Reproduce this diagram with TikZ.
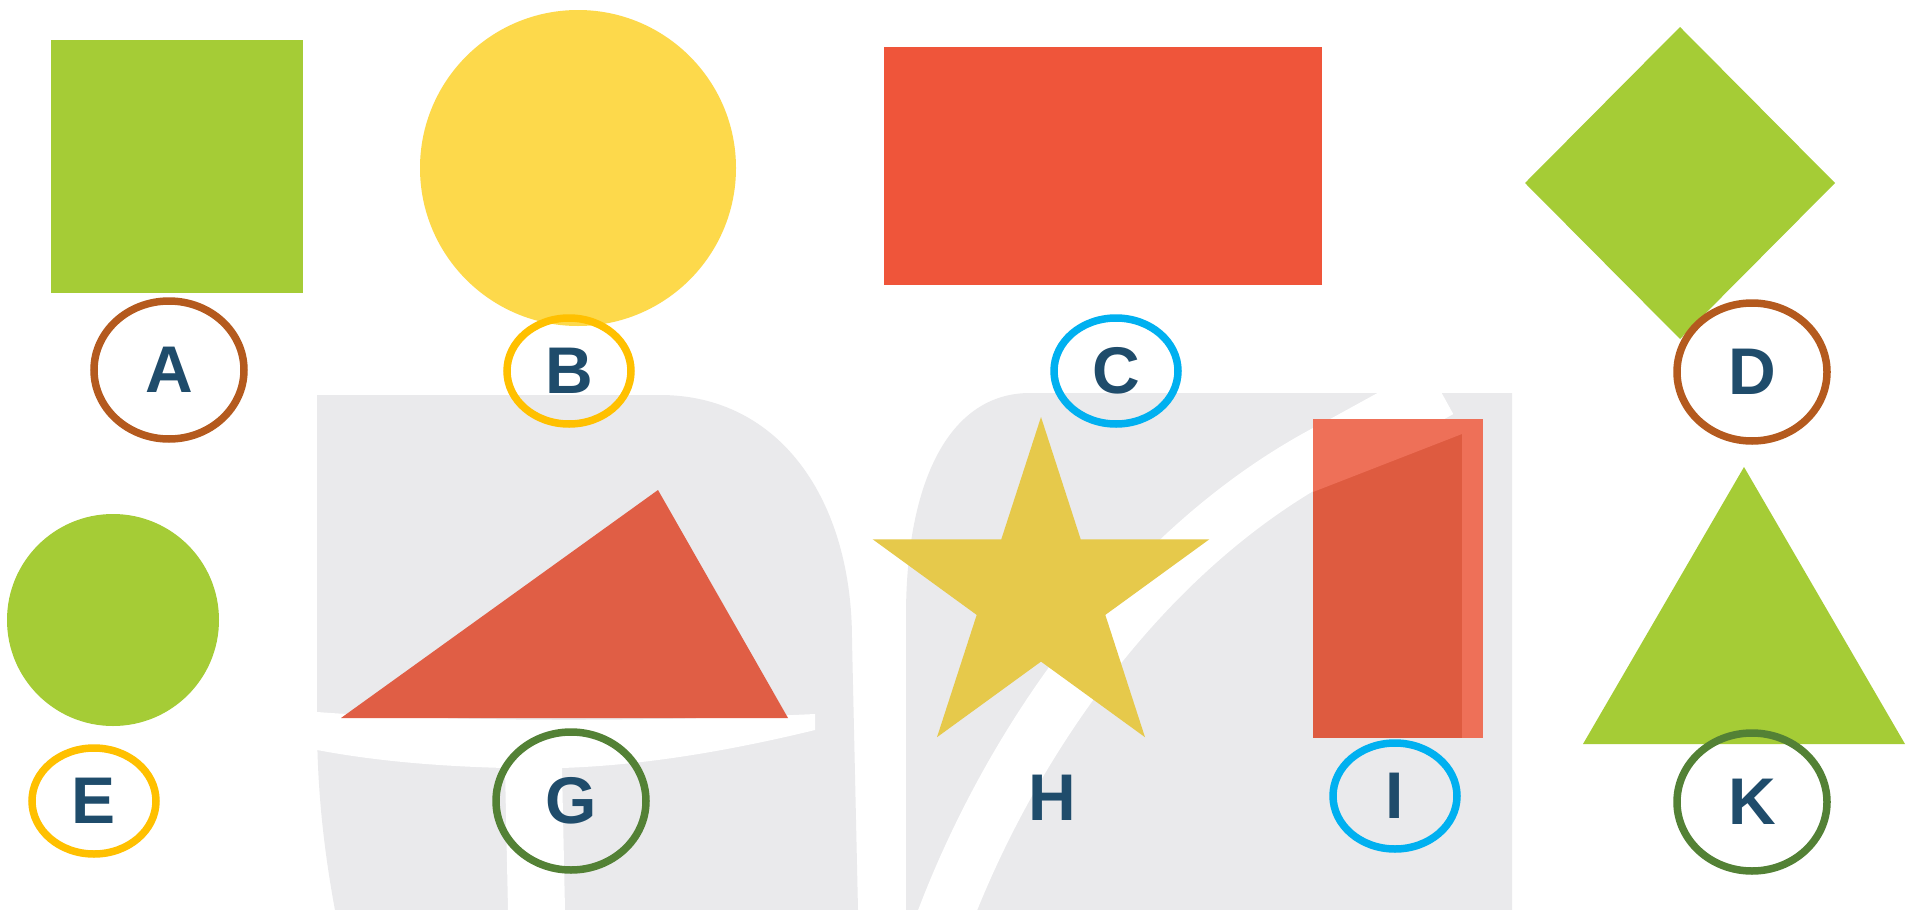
\documentclass[tikz,border=0pt]{standalone}
\usepackage{fontspec}
\setmainfont{Liberation Sans}
\usetikzlibrary{shapes.geometric}
\definecolor{shgreen}{HTML}{A5CC36}
\definecolor{shyellow}{HTML}{FDD94B}
\definecolor{shstar}{HTML}{E6C94B}
\definecolor{shred}{HTML}{EF553A}
\definecolor{shredG}{HTML}{E05E45}
\definecolor{shredI}{HTML}{DE5B40}
\definecolor{shredIlight}{HTML}{EE7058}
\definecolor{ringbrown}{HTML}{B45A1E}
\definecolor{ringgold}{HTML}{FFC000}
\definecolor{ringcyan}{HTML}{00B0F0}
\definecolor{ringgreen}{HTML}{538135}
\definecolor{lettercol}{HTML}{1F4C6B}
\definecolor{wmgray}{HTML}{EAEAEC}
\begin{document}
\begin{tikzpicture}[x=1pt,y=-1pt,
  letter/.style={font=\fontsize{66}{66}\selectfont\bfseries, text=lettercol, inner sep=0pt},
  ringbig/.style={letter, ellipse, draw, line width=7.5pt, minimum width=150pt, minimum height=138pt},
  ringsmall/.style={letter, ellipse, draw, line width=7.5pt, minimum width=124pt, minimum height=106pt},
  figbox/.style={draw=none, inner sep=0pt, outer sep=0pt}]
% canvas
\fill[white] (0,0) rectangle (1931,910);
\useasboundingbox (0,0) rectangle (1931,910);
% watermark (light grey logo)
\fill[wmgray] (317,395) -- (660,395) .. controls (780,395) and (852,500) .. (852,640) -- (858,910) -- (335,910) .. controls (322,840) and (317,780) .. (317,720) -- cycle;
\fill[white] (317,712) .. controls (450,722) and (650,722) .. (815,714) -- (815,730) .. controls (700,758) and (620,766) .. (562,768) -- (565,910) -- (508,910) -- (505,768) .. controls (430,766) and (370,760) .. (317,750) -- cycle;
\begin{scope}
\clip (906,910) -- (906,616) .. controls (906,480) and (950,393) .. (1030,393) -- (1512,393) -- (1512,910) -- cycle;
\fill[wmgray] (0,0) rectangle (1931,910);
\draw[white, line width=55pt] (940,930) .. controls (1010,740) and (1150,540) .. (1340,445) -- (1440,390);
\end{scope}
% top row shapes
\node[figbox, fill=shgreen, minimum width=252pt, minimum height=253pt] (sqA) at (177,166.5) {};
\node[figbox, circle, fill=shyellow, minimum size=316pt] (ciB) at (578,168) {};
\node[figbox, fill=shred, minimum width=438pt, minimum height=238pt] (reC) at (1103,166) {};
\fill[shgreen] (1680,27) -- (1835,183) -- (1680,339) -- (1525,183) -- cycle;
% bottom row shapes
\node[figbox, circle, fill=shgreen, minimum size=212pt] (ciE) at (113,620) {};
\fill[shredG] (341,718) -- (658,490) -- (788,718) -- cycle;
\fill[shstar] (1041,417) -- (1080.7,539.3) -- (1209.3,539.3) -- (1105.3,614.9) -- (1145,737.2) -- (1041,661.6) -- (937,737.2) -- (976.7,614.9) -- (872.7,539.3) -- (1001.3,539.3) -- cycle;
\node[figbox, fill=shredI, minimum width=170pt, minimum height=319pt] (reI) at (1398,578.5) {};
\fill[shredIlight] (1313,419) -- (1462,419) -- (1462,434) -- (1313,492) -- cycle;
\fill[shredIlight] (1462,419) rectangle (1483,738);
\fill[shgreen] (1583,744) -- (1744,467) -- (1905,744) -- cycle;
% labels
\node[ringbig, draw=ringbrown] (A) at (169,370) {A};
\node[ringsmall, draw=ringgold] (B) at (569,371) {B};
\node[ringsmall, draw=ringcyan] (C) at (1116,371) {C};
\node[ringbig, draw=ringbrown] (D) at (1752,372) {D};
\node[ringsmall, draw=ringgold] (E) at (94,801) {E};
\node[ringbig, draw=ringgreen] (G) at (571,801) {G};
\node[letter] (H) at (1052,798) {H};
\node[ringsmall, draw=ringcyan] (I) at (1395,796) {I};
\node[ringbig, draw=ringgreen] (K) at (1752,802) {K};
\end{tikzpicture}
\end{document}
